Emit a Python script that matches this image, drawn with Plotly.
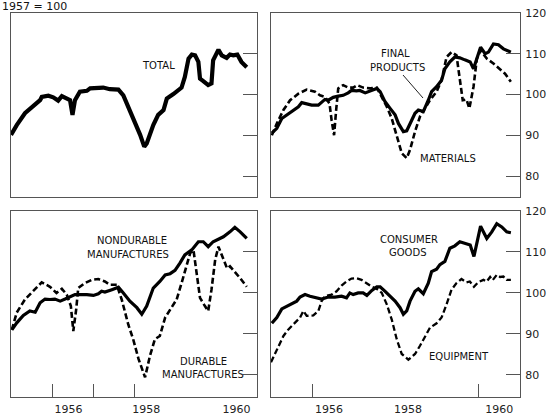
import plotly.graph_objects as go

W, H = 551, 417

# ---- data (decimal years, index 1957 = 100) ----
total_x = [1955.0, 1955.14, 1955.34, 1955.54, 1955.71, 1955.75, 1955.91, 1956.03, 1956.15, 1956.24, 1956.36,
           1956.44, 1956.50, 1956.56, 1956.68, 1956.85, 1956.93, 1957.09, 1957.25, 1957.41, 1957.62, 1957.74,
           1957.86, 1957.98, 1958.15, 1958.25, 1958.31, 1958.47, 1958.59, 1958.72, 1958.80, 1958.96, 1959.08,
           1959.16, 1959.24, 1959.33, 1959.41, 1959.49, 1959.57, 1959.61, 1959.69, 1959.81, 1959.89, 1959.93,
           1960.06, 1960.14, 1960.26, 1960.34, 1960.42, 1960.52, 1960.62, 1960.75]
total_y = [90.1, 92.5, 95.4, 97.2, 98.6, 99.4, 99.7, 99.3, 98.5, 99.6, 99.0,
           98.6, 95.0, 98.6, 100.7, 100.9, 101.5, 101.5, 101.7, 101.3, 101.2, 99.8,
           97.0, 94.1, 90.1, 87.2, 88.0, 92.5, 95.0, 96.2, 99.0, 100.1, 100.9,
           101.7, 104.3, 108.8, 109.8, 109.6, 108.0, 103.9, 103.3, 102.3, 102.7, 108.4,
           111.0, 109.6, 109.0, 109.8, 109.6, 109.8, 108.0, 106.7]

final_x = [1955.02, 1955.14, 1955.26, 1955.38, 1955.54, 1955.66, 1955.74, 1955.86, 1955.98, 1956.14, 1956.22,
           1956.30, 1956.38, 1956.50, 1956.62, 1956.74, 1956.86, 1956.94, 1957.06, 1957.14, 1957.27, 1957.39,
           1957.55, 1957.63, 1957.75, 1957.87, 1957.99, 1958.07, 1958.19, 1958.27, 1958.35, 1958.47, 1958.55,
           1958.67, 1958.79, 1958.87, 1958.99, 1959.11, 1959.19, 1959.31, 1959.43, 1959.55, 1959.67, 1959.80,
           1959.88, 1959.96, 1960.05, 1960.16, 1960.24, 1960.36, 1960.48, 1960.60, 1960.78]
final_y = [90.5, 91.7, 94.1, 95.0, 96.0, 97.0, 98.0, 97.6, 97.4, 97.4, 98.2,
           98.8, 98.6, 99.3, 99.6, 99.8, 100.4, 101.0, 100.9, 101.0, 100.4, 100.9,
           101.5, 100.7, 98.2, 96.6, 95.0, 92.9, 90.9, 91.1, 92.9, 95.4, 96.2,
           95.8, 98.6, 100.7, 101.9, 103.5, 106.3, 108.0, 109.2, 109.0, 108.5, 108.0,
           106.3, 108.8, 111.6, 110.0, 110.4, 112.4, 112.2, 111.2, 110.4]

materials_x = [1955.02, 1955.14, 1955.30, 1955.46, 1955.66, 1955.86, 1956.06, 1956.18, 1956.30, 1956.41, 1956.46,
               1956.52, 1956.57, 1956.62, 1956.74, 1956.86, 1956.98, 1957.08, 1957.22, 1957.39, 1957.55, 1957.67,
               1957.79, 1957.91, 1958.03, 1958.15, 1958.27, 1958.35, 1958.47, 1958.59, 1958.71, 1958.83, 1958.99,
               1959.11, 1959.23, 1959.35, 1959.47, 1959.55, 1959.62, 1959.71, 1959.78, 1959.88, 1959.96, 1960.05,
               1960.20, 1960.36, 1960.52, 1960.64, 1960.78]
materials_y = [90.0, 92.9, 96.2, 98.6, 100.2, 101.2, 100.7, 99.8, 99.4, 97.8, 93.7,
               90.0, 96.2, 101.5, 102.3, 101.7, 101.7, 102.3, 101.7, 101.5, 101.7, 99.4,
               97.0, 94.1, 89.7, 85.6, 84.4, 86.4, 90.9, 94.6, 96.6, 98.6, 100.7,
               103.5, 109.2, 110.4, 109.6, 104.3, 98.6, 98.8, 96.6, 101.9, 108.8, 110.8,
               108.8, 107.6, 106.3, 105.1, 103.1]

nondur_x = [1955.02, 1955.14, 1955.30, 1955.46, 1955.59, 1955.71, 1955.83, 1955.95, 1956.07, 1956.20, 1956.32,
            1956.44, 1956.56, 1956.68, 1956.85, 1957.01, 1957.13, 1957.21, 1957.29, 1957.46, 1957.62, 1957.74,
            1957.90, 1958.07, 1958.19, 1958.31, 1958.47, 1958.63, 1958.76, 1958.88, 1959.00, 1959.12, 1959.24,
            1959.41, 1959.57, 1959.69, 1959.81, 1959.93, 1960.06, 1960.18, 1960.34, 1960.46, 1960.59, 1960.75]
nondur_y = [91.0, 92.7, 94.5, 95.6, 95.3, 97.6, 98.5, 98.4, 98.5, 98.0, 98.5,
            99.0, 99.6, 99.6, 99.6, 99.4, 99.8, 100.4, 100.2, 100.8, 101.4, 100.0,
            98.0, 96.4, 94.8, 96.8, 101.2, 102.8, 104.4, 104.7, 105.5, 107.3, 109.3,
            110.5, 112.5, 112.5, 111.3, 112.5, 113.1, 113.7, 114.9, 116.0, 114.9, 113.3]

durable_x = [1955.02, 1955.14, 1955.34, 1955.54, 1955.75, 1955.95, 1956.11, 1956.24, 1956.36, 1956.46, 1956.52,
             1956.59, 1956.64, 1956.80, 1956.97, 1957.13, 1957.29, 1957.41, 1957.58, 1957.70, 1957.86, 1957.98,
             1958.11, 1958.27, 1958.39, 1958.51, 1958.63, 1958.76, 1958.88, 1959.04, 1959.16, 1959.28, 1959.37,
             1959.45, 1959.51, 1959.61, 1959.73, 1959.81, 1959.89, 1959.98, 1960.06, 1960.18, 1960.27, 1960.34,
             1960.46, 1960.59, 1960.75]
durable_y = [91.0, 95.2, 98.4, 100.4, 102.6, 101.5, 100.0, 101.0, 99.6, 96.8, 90.7,
             96.0, 101.2, 102.4, 103.2, 103.4, 102.8, 102.0, 102.0, 98.4, 92.3, 88.7,
             83.9, 79.4, 84.7, 88.7, 89.5, 94.0, 96.0, 98.4, 102.4, 106.9, 109.7,
             110.5, 106.5, 98.8, 96.8, 95.6, 100.8, 108.1, 111.3, 108.5, 106.0, 106.5,
             105.2, 103.6, 101.5]

consumer_x = [1955.02, 1955.14, 1955.26, 1955.38, 1955.50, 1955.62, 1955.70, 1955.82, 1955.94, 1956.10, 1956.22,
              1956.38, 1956.54, 1956.70, 1956.82, 1956.90, 1956.98, 1957.10, 1957.22, 1957.31, 1957.43, 1957.55,
              1957.63, 1957.75, 1957.87, 1957.99, 1958.11, 1958.19, 1958.27, 1958.35, 1958.47, 1958.55, 1958.67,
              1958.79, 1958.87, 1958.99, 1959.07, 1959.19, 1959.31, 1959.43, 1959.55, 1959.67, 1959.80, 1959.89,
              1959.97, 1960.05, 1960.20, 1960.32, 1960.44, 1960.56, 1960.68, 1960.78]
consumer_y = [92.6, 94.0, 96.1, 96.8, 97.4, 98.0, 99.0, 99.6, 99.2, 98.8, 98.5,
              99.0, 99.0, 99.2, 98.8, 100.0, 99.6, 100.0, 100.0, 99.4, 100.6, 101.5,
              101.5, 100.4, 99.2, 98.0, 96.4, 94.8, 95.6, 98.0, 100.4, 101.0, 99.8,
              102.4, 105.2, 105.8, 106.9, 107.7, 110.9, 111.5, 112.5, 112.1, 111.7, 108.9,
              112.5, 116.3, 113.3, 114.9, 116.9, 116.1, 114.9, 114.7]

equip_x = [1955.0, 1955.14, 1955.30, 1955.42, 1955.58, 1955.70, 1955.78, 1955.86, 1956.02, 1956.14, 1956.22,
           1956.30, 1956.46, 1956.58, 1956.70, 1956.82, 1956.94, 1957.06, 1957.18, 1957.31, 1957.43, 1957.55,
           1957.67, 1957.79, 1957.91, 1958.03, 1958.15, 1958.31, 1958.47, 1958.59, 1958.71, 1958.83, 1958.99,
           1959.11, 1959.23, 1959.35, 1959.47, 1959.59, 1959.71, 1959.79, 1959.89, 1959.99, 1960.12, 1960.20,
           1960.28, 1960.34, 1960.44, 1960.52, 1960.60, 1960.68, 1960.78]
equip_y = [83.1, 85.9, 89.5, 91.1, 92.7, 94.0, 95.6, 94.4, 94.5, 95.6, 98.0,
           99.2, 99.6, 100.4, 101.8, 102.8, 103.5, 103.6, 103.2, 102.3, 101.5, 101.0,
           100.0, 97.2, 93.5, 88.7, 85.1, 83.7, 85.1, 87.1, 89.5, 91.5, 92.6,
           94.0, 97.2, 100.8, 102.4, 103.4, 102.6, 102.8, 101.5, 102.6, 103.2, 102.8,
           103.9, 103.1, 104.4, 103.9, 104.0, 103.2, 103.2]

y_ticks = [80, 90, 100, 110, 120]
y_tick_labels = ["80", "90", "100", "110", "120"]
year_tick_vals = [1956.4, 1958.3, 1960.5]
year_tick_labels = ["1956", "1958", "1960"]
x_range = [1955.0, 1961.0]


def px(x):
    return x / W


def py(y):
    return 1 - y / H


FONT = "DejaVu Sans"
DASH = "6px,3px"

fig = go.Figure()

def add(x, y, xa, ya, width, dash="solid"):
    fig.add_trace(go.Scatter(x=x, y=y, xaxis=xa, yaxis=ya, mode="lines",
                             line=dict(color="black", width=width, dash=dash),
                             hoverinfo="skip", showlegend=False))

add(total_x, total_y, "x", "y", 4.2)
add(materials_x, materials_y, "x2", "y2", 2.6, DASH)
add(final_x, final_y, "x2", "y2", 3.2)
add(durable_x, durable_y, "x3", "y3", 2.6, DASH)
add(nondur_x, nondur_y, "x3", "y3", 3.2)
add(equip_x, equip_y, "x4", "y4", 2.3, DASH)
add(consumer_x, consumer_y, "x4", "y4", 3.2)

frame = dict(showline=True, linecolor="#555", linewidth=1, mirror=True,
             showgrid=False, zeroline=False, automargin=False)

left_dom = [px(11), px(257)]
right_dom = [px(271), px(520)]
top_dom = [py(197), py(13)]
bot_dom = [py(397), py(211)]

def xax(dom, anchor, labels, minor_vals):
    d = dict(frame, domain=dom, anchor=anchor, range=x_range,
             tickmode="array", tickvals=year_tick_vals if labels else [],
             ticktext=year_tick_labels if labels else [],
             showticklabels=labels, ticks="", ticklabelstandoff=2,
             tickfont=dict(family=FONT, size=11, color="#222"))
    if minor_vals:
        d["minor"] = dict(tickmode="array", tickvals=minor_vals, ticks="inside",
                          ticklen=13, tickcolor="#555", tickwidth=1)
    return d

def yax(dom, anchor, rng, labels):
    return dict(frame, domain=dom, anchor=anchor, range=rng,
                tickmode="array", tickvals=y_ticks, ticktext=y_tick_labels,
                ticks="inside", ticklen=14, tickcolor="#555", tickwidth=1,
                side="right", showticklabels=labels, ticklabelstandoff=2,
                tickfont=dict(family=FONT, size=11, color="#222"))

top_rng = [74.85, 120]
bot_rng = [74.6, 120]

fig.update_layout(
    width=W, height=H, template="none",
    margin=dict(l=0, r=0, t=0, b=0),
    paper_bgcolor="white", plot_bgcolor="white",
    xaxis=xax(left_dom, "y", False, None),
    yaxis=yax(top_dom, "x", top_rng, False),
    xaxis2=xax(right_dom, "y2", False, None),
    yaxis2=yax(top_dom, "x2", top_rng, True),
    xaxis3=xax(left_dom, "y3", True, [1956, 1957, 1958]),
    yaxis3=yax(bot_dom, "x3", bot_rng, False),
    xaxis4=xax(right_dom, "y4", True, [1956, 1960]),
    yaxis4=yax(bot_dom, "x4", bot_rng, True),
)

labels = [
    ("1957 = 100", 0, 6, "left", 11),
    ("TOTAL", 158, 65, "center", 10),
    ("FINAL", 395, 54, "center", 10),
    ("PRODUCTS", 397, 67, "center", 10),
    ("MATERIALS", 448, 158, "center", 10),
    ("NONDURABLE", 132, 241, "center", 10),
    ("MANUFACTURES", 128, 254, "center", 10),
    ("DURABLE", 203, 361, "center", 10),
    ("MANUFACTURES", 203, 374, "center", 10),
    ("CONSUMER", 409, 239, "center", 10),
    ("GOODS", 408, 252, "center", 10),
    ("EQUIPMENT", 459, 356, "center", 10),
]
for txt, x, y, anc, sz in labels:
    fig.add_annotation(text=txt, xref="paper", yref="paper", x=px(x), y=py(y),
                       xanchor=anc, yanchor="middle", showarrow=False,
                       font=dict(family=FONT, size=sz, color="#111"))

fig.add_shape(type="line", xref="paper", yref="paper", x0=px(403), y0=py(75),
              x1=px(423), y1=py(98), line=dict(color="#222", width=1))

fig.write_html("out.html", config={"displayModeBar": False},
               post_script="document.body.style.margin='0';document.body.style.overflow='hidden';")
